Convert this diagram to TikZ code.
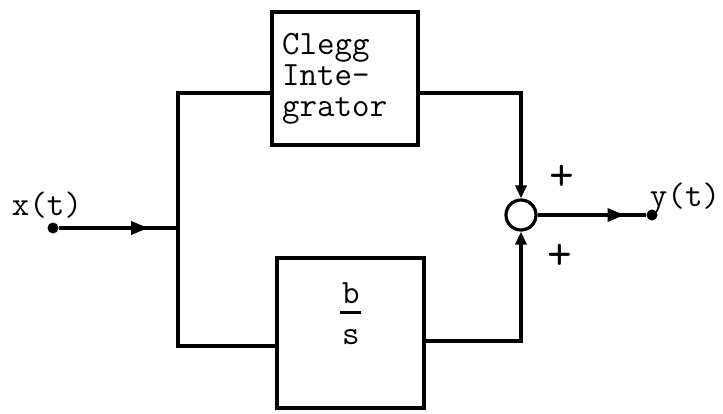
\documentclass[tikz,border=0pt]{standalone}
\usepackage{fontspec}
\usetikzlibrary{arrows.meta,decorations.markings}
\tikzset{
  wire/.style={line width=3.2pt},
  blk/.style={draw,line width=3.2pt,inner sep=0pt},
  txt/.style={font=\ttfamily\fontsize{34}{31}\selectfont,inner sep=0pt},
  plus/.style={font=\ttfamily\fontsize{48}{48}\selectfont,inner sep=0pt},
  dotnode/.style={circle,fill,inner sep=0pt,minimum size=11pt},
  midarrow/.style={postaction={decorate},decoration={markings,
    mark=at position #1 with {\arrow{Triangle[length=17pt,width=13pt]}}}},
  tip/.style={-{Triangle[length=13pt,width=11pt]}}
}
\begin{document}
\begin{tikzpicture}[x=1pt,y=-1pt]
\useasboundingbox (0,0) rectangle (723,413);
% blocks
\node[blk,minimum width=146pt,minimum height=133pt] (clegg) at (345,78.5) {};
\node[txt,anchor=north west,align=left] (cleggtxt) at (282,33) {Clegg\\Inte-\\grator};
\node[blk,minimum width=147pt,minimum height=150pt] (bs) at (350.5,333) {};
\node[txt,align=center,font=\ttfamily\fontsize{34}{41}\selectfont] (frac) at (351,314)
  {b\llap{\makebox[17.85pt]{\raisebox{-10pt}{\rule{21pt}{2.8pt}}}}\\s};
% summing junction
\node[draw,circle,line width=3.2pt,minimum size=30pt,inner sep=0pt] (sum) at (521,215) {};
% terminals
\node[dotnode] (xin) at (53,228) {};
\node[dotnode] (yout) at (652,215) {};
\coordinate (jn) at (178,228);
% labels
\node[txt] (xl) at (47,205) {x(t)};
\node[txt] (yl) at (685,199) {y(t)};
\node[plus] (p1) at (562,178) {+};
\node[plus] (p2) at (560,257) {+};
% connectors
\draw[wire,midarrow=0.75] (xin) -- (jn);
\draw[wire] (jn) |- ([yshift=-14.5pt]clegg.west);
\draw[wire] (jn) |- ([yshift=-13pt]bs.west);
\draw[wire,tip] ([yshift=-14.5pt]clegg.east) -| (sum.north);
\draw[wire,tip] ([yshift=-8pt]bs.east) -| (sum.south);
\draw[wire,midarrow=0.8] (sum.east) -- (yout);
\end{tikzpicture}
\end{document}
